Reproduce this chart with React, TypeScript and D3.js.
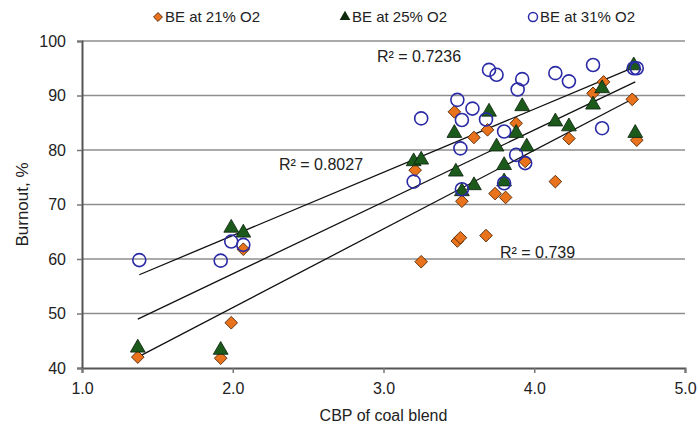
import { useEffect, useRef } from 'react'
import * as d3 from 'd3'

type Pt = [number, number]

// BE at 21% O2 (orange diamonds)
const be21: Pt[] = [
  [1.37, 42.0], [1.92, 41.8], [1.99, 48.3], [2.07, 61.8], [3.21, 76.3], [3.25, 59.5],
  [3.47, 87.0], [3.49, 63.3], [3.51, 63.9], [3.52, 70.6], [3.6, 82.3], [3.68, 64.3],
  [3.69, 83.7], [3.74, 72.0], [3.81, 71.3], [3.88, 84.9], [3.94, 77.9], [4.14, 74.2],
  [4.23, 82.1], [4.39, 90.4], [4.46, 92.5], [4.65, 89.3], [4.68, 81.8],
]

// BE at 25% O2 (green triangles)
const be25: Pt[] = [
  [1.37, 43.7], [1.92, 43.3], [1.99, 65.7], [2.07, 64.8], [3.2, 77.9], [3.25, 78.2],
  [3.47, 83.1], [3.48, 76.0], [3.52, 72.4], [3.6, 73.5], [3.7, 87.0], [3.75, 80.6],
  [3.8, 77.2], [3.8, 74.2], [3.88, 83.1], [3.92, 88.0], [3.95, 80.6], [4.14, 85.2],
  [4.23, 84.3], [4.39, 88.3], [4.45, 91.3], [4.66, 95.5], [4.67, 83.1],
]

// BE at 31% O2 (blue open circles)
const be31: Pt[] = [
  [1.38, 59.8], [1.92, 59.7], [1.99, 63.2], [2.07, 62.6], [3.2, 74.2], [3.25, 85.8],
  [3.49, 89.2], [3.51, 80.3], [3.52, 85.5], [3.52, 72.8], [3.59, 87.6], [3.68, 85.6],
  [3.7, 94.7], [3.75, 93.8], [3.8, 83.4], [3.8, 73.9], [3.88, 79.1], [3.89, 91.1],
  [3.92, 93.0], [3.94, 77.6], [4.14, 94.1], [4.23, 92.6], [4.39, 95.6], [4.45, 84.0],
  [4.66, 95.0], [4.68, 95.0],
]

// linear trend lines: [slope, intercept, xStart, xEnd]
const trend21 = [14.44, 22.2, 1.37, 4.68]
const trend25 = [13.19, 30.9, 1.37, 4.67]
const trend31 = [11.6, 41.1, 1.38, 4.66]

const r2Labels = ['R² = 0.7236', 'R² = 0.8027', 'R² = 0.739']
const legendLabels = ['BE at 21% O2', 'BE at 25% O2', 'BE at 31% O2']
const xTicks = [1, 2, 3, 4, 5]
const yTicks = [40, 50, 60, 70, 80, 90, 100]

const font = 'Liberation Sans, Arial, sans-serif'
const orange = '#e8731c'
const green = '#1c5a1c'
const blue = '#2a2aa6'

export default function App() {
  const svgRef = useRef<SVGSVGElement>(null)

  useEffect(() => {
    if (!svgRef.current) return
    const svg = d3.select(svgRef.current)
    svg.selectAll('*').remove()

    const x = d3.scaleLinear().domain([1, 5]).range([82, 685])
    const y = d3.scaleLinear().domain([40, 100]).range([368, 41])

    // gridlines
    svg.append('g')
      .selectAll('line')
      .data(yTicks.filter((t) => t > 40))
      .enter().append('line')
      .attr('x1', x(1)).attr('x2', x(5))
      .attr('y1', (d) => y(d)).attr('y2', (d) => y(d))
      .attr('stroke', '#8e8e8e').attr('stroke-width', 1.6)

    const yAxis = svg.append('g')
      .attr('transform', `translate(${x(1)},0)`)
      .call(d3.axisLeft(y).tickValues(yTicks).tickSize(5).tickPadding(11).tickFormat(d3.format('d')))
    const xAxis = svg.append('g')
      .attr('transform', `translate(0,${y(40)})`)
      .call(d3.axisBottom(x).tickValues(xTicks).tickSize(5).tickPadding(10).tickFormat(d3.format('.1f')))
    ;[xAxis, yAxis].forEach((a) => {
      a.select('.domain').attr('stroke', '#555').attr('stroke-width', 2)
      a.selectAll('.tick line').attr('stroke', '#777').attr('stroke-width', 1.5)
      a.selectAll('text').attr('font-family', font).attr('font-size', 16).attr('fill', '#222')
    })

    // trend lines
    const line = d3.line<number>().x((d) => x(d))
    ;[trend21, trend25, trend31].forEach(([m, b, x0, x1]) => {
      svg.append('path')
        .datum([x0, x1])
        .attr('fill', 'none').attr('stroke', '#111').attr('stroke-width', 1.3)
        .attr('d', line.y((d) => y(m * d + b)))
    })

    const diamond = d3.symbol().type(d3.symbolSquare).size(80)
    const tri = d3.symbol().type(d3.symbolTriangle).size(95)

    svg.append('g').selectAll('path')
      .data(be21).enter().append('path')
      .attr('d', diamond)
      .attr('transform', (d) => `translate(${x(d[0])},${y(d[1])}) rotate(45)`)
      .attr('fill', orange).attr('stroke', '#4a2000').attr('stroke-width', 0.8)

    svg.append('g').selectAll('path')
      .data(be25).enter().append('path')
      .attr('d', tri)
      .attr('transform', (d) => `translate(${x(d[0])},${y(d[1])})`)
      .attr('fill', green).attr('stroke', '#0a200a').attr('stroke-width', 0.8)

    svg.append('g').selectAll('circle')
      .data(be31).enter().append('circle')
      .attr('cx', (d) => x(d[0])).attr('cy', (d) => y(d[1]))
      .attr('r', 6.5)
      .attr('fill', 'none').attr('stroke', blue).attr('stroke-width', 1.6)

    // R² labels
    const r2Pos: [number, number][] = [[377, 62], [279, 170], [500, 258]]
    r2Labels.forEach((t, i) => {
      svg.append('text')
        .attr('x', r2Pos[i][0]).attr('y', r2Pos[i][1])
        .attr('font-family', font).attr('font-size', 16).attr('fill', '#222')
        .text(t)
    })

    // axis titles
    svg.append('text')
      .attr('x', (x(1) + x(5)) / 2).attr('y', 421)
      .attr('text-anchor', 'middle').attr('font-family', font).attr('font-size', 16).attr('fill', '#222')
      .text('CBP of coal blend')
    svg.append('text')
      .attr('transform', `translate(28,${(y(40) + y(100)) / 2}) rotate(-90)`)
      .attr('text-anchor', 'middle').attr('font-family', font).attr('font-size', 17).attr('fill', '#222')
      .text('Burnout, %')

    // legend
    const legX = [158, 345, 533]
    const lg = svg.append('g')
    legendLabels.forEach((t, i) => {
      const cx = legX[i]
      if (i === 0) {
        lg.append('path').attr('d', d3.symbol().type(d3.symbolSquare).size(40))
          .attr('transform', `translate(${cx},17) rotate(45)`)
          .attr('fill', orange).attr('stroke', '#4a2000').attr('stroke-width', 0.8)
      } else if (i === 1) {
        lg.append('path').attr('d', d3.symbol().type(d3.symbolTriangle).size(50))
          .attr('transform', `translate(${cx},17)`)
          .attr('fill', '#0d2a0d')
      } else {
        lg.append('circle').attr('cx', cx).attr('cy', 17).attr('r', 4.5)
          .attr('fill', 'none').attr('stroke', blue).attr('stroke-width', 1.5)
      }
      lg.append('text')
        .attr('x', cx + 7).attr('y', 22)
        .attr('font-family', font).attr('font-size', 15).attr('fill', '#222')
        .text(t)
    })
  }, [])

  return (
    <svg
      ref={svgRef}
      width={698}
      height={432}
      style={{ position: 'absolute', left: 0, top: 0, background: '#fff' }}
    />
  )
}
